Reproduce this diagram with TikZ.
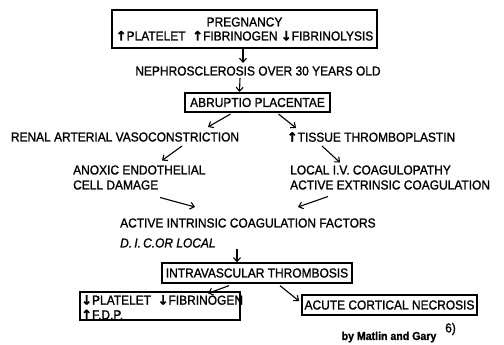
\documentclass[tikz,border=0pt]{standalone}
\usepackage{fontspec}
\setmainfont{Liberation Sans}[FakeStretch=0.92,FakeBold=1.2]
\newfontfamily\arrfont{DejaVu Sans}[FakeBold=1.5]
\usetikzlibrary{arrows.meta}
\newcommand{\UP}{{\arrfont\bfseries ↑}}
\newcommand{\DN}{{\arrfont\bfseries ↓}}
\begin{document}
\begin{tikzpicture}[x=1pt,y=-1pt,
  txt/.style={inner sep=0pt,font=\fontsize{13}{15}\selectfont},
  boxA/.style={draw,line width=1.3pt,inner sep=0pt,font=\fontsize{13}{15}\selectfont},
  boxB/.style={draw,line width=2pt,inner sep=0pt,font=\fontsize{13}{15}\selectfont},
  arr/.style={line width=1.1pt,-{Straight Barb[length=4pt,width=7pt]}}]
\useasboundingbox (0,0) rectangle (504,345);
% nodes
\node[boxA,minimum width=265pt,minimum height=38pt,align=center] (preg) at (244.5,29)
  {PREGNANCY\\[-1pt]\UP PLATELET\ \ \UP FIBRINOGEN \DN FIBRINOLYSIS};
\node[txt] (neph) at (258,71) {NEPHROSCLEROSIS OVER 30 YEARS OLD};
\node[boxB,minimum width=145pt,minimum height=19pt] (abr) at (257.5,102.5) {ABRUPTIO PLACENTAE};
\node[txt] (renal) at (125,137) {RENAL ARTERIAL VASOCONSTRICTION};
\node[txt] (tissue) at (371,137) {\UP TISSUE THROMBOPLASTIN};
\node[txt,anchor=west,align=left] (anoxic) at (73,177.5) {ANOXIC ENDOTHELIAL\\CELL DAMAGE};
\node[txt,anchor=west,align=left] (local) at (290,177.5) {LOCAL I.V. COAGULOPATHY\\ACTIVE EXTRINSIC COAGULATION};
\node[txt,anchor=west] (act) at (120,223) {ACTIVE INTRINSIC COAGULATION FACTORS};
\node[txt,anchor=west,font=\fontsize{13}{15}\selectfont\itshape] (dic) at (120,243) {D.\,I.\,C.OR LOCAL};
\node[boxA,minimum width=190pt,minimum height=20pt] (intra) at (257,273) {INTRAVASCULAR THROMBOSIS};
\node[boxA,minimum width=160pt,minimum height=28pt] (fdp) at (160,306) {};
\node[txt,anchor=west] (fdp1) at (81,300) {\DN PLATELET\ \ \DN FIBRINOGEN};
\node[txt,anchor=west] (fdp2) at (81,314.5) {\UP F.D.P.};
\node[boxB,minimum width=175pt,minimum height=20pt] (acn) at (389.5,305) {ACUTE CORTICAL NECROSIS};
\node[txt,font=\fontsize{11.5}{12}\selectfont\bfseries] (by) at (389,337) {by Matlin and Gary};
\node[txt,anchor=west,font=\fontsize{13}{12}\selectfont] (ref) at (445,329) {6)};
% connectors
\draw[arr] (preg.south -| 243,0) -- (243,63);
\draw[arr] ([shift={(-18,7)}]neph.center) -- ([xshift=-18pt]abr.north);
\draw[arr] ([shift={(-27,1)}]abr.south) -- ([shift={(83,-10)}]renal.center);
\draw[arr] ([shift={(21,1)}]abr.south) -- ([shift={(-75,-9)}]tissue.center);
\draw[arr] ([shift={(57,9)}]renal.center) -- ([shift={(89,-17)}]anoxic.west);
\draw[arr] ([shift={(-49,9)}]tissue.center) -- ([shift={(50,-15)}]local.west);
\draw[arr] ([shift={(87,20)}]anoxic.west) -- ([shift={(75,-16)}]act.west);
\draw[arr] ([shift={(38,19)}]local.west) -- ([shift={(178,-16)}]act.west);
\draw[arr] ([shift={(117,6)}]dic.west) -- ([xshift=-20pt]intra.north);
\draw[arr] ([shift={(-28,2)}]intra.south) -- ([shift={(48,2)}]fdp.north);
\draw[arr] ([shift={(23,2)}]intra.south) -- ([shift={(-2,-4)}]acn.west);
\end{tikzpicture}
\end{document}
